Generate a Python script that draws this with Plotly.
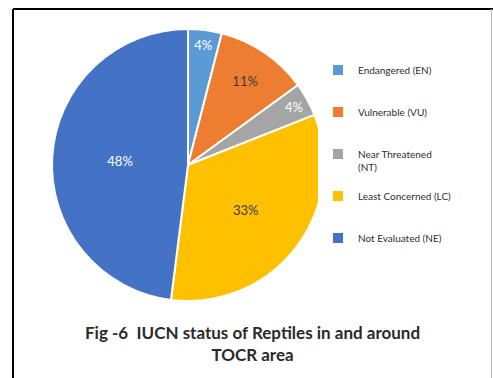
import plotly.graph_objects as go

# IUCN categories and their share of recorded reptile species (%)
categories = ["Endangered (EN)", "Vulnerable (VU)", "Near Threatened<br>(NT)",
              "Least Concerned (LC)", "Not Evaluated (NE)"]
shares = [4, 11, 4, 33, 48]
slice_colors = ["#5B9BD5", "#ED7D31", "#A5A5A5", "#FFC000", "#4472C4"]
label_colors = ["white", "#3b3b3b", "white", "#3b3b4f", "white"]

# pad legend entries so they are spread down the right side
legend_text = []
for c in categories:
    n_lines = c.count("<br>") + 1
    legend_text.append(c + "<br> " * (3 - n_lines))

W, H = 493, 378
cx, cy, r = 188, 165, 136

fig = go.Figure(go.Pie(
    labels=legend_text,
    values=shares,
    sort=False,
    direction="clockwise",
    rotation=0,
    marker=dict(colors=slice_colors, line=dict(color="white", width=2)),
    texttemplate="%{value}%",
    textposition="inside",
    insidetextorientation="horizontal",
    textfont=dict(family="Lato", size=13, color=label_colors),
    hoverinfo="label+percent",
    domain=dict(x=[(cx - r) / W, (cx + r) / W],
                y=[(H - cy - r) / H, (H - cy + r) / H]),
))

fig.update_layout(
    width=W, height=H,
    margin=dict(l=0, r=0, t=0, b=0),
    paper_bgcolor="white",
    uniformtext=dict(minsize=13, mode="show"),
    legend=dict(
        x=318 / W, xanchor="left",
        y=1 - 57 / H, yanchor="top",
        valign="top",
        font=dict(family="Lato", size=10, color="#2e2e2e"),
        itemwidth=30,
        tracegroupgap=0,
    ),
    annotations=[dict(
        text="<b>Fig -6  IUCN status of Reptiles in and around</b><br><b>TOCR area</b>",
        x=252 / W, y=1 - 343 / H, xref="paper", yref="paper",
        xanchor="center", yanchor="middle", showarrow=False,
        font=dict(family="Lato", size=17, color="#2a2a2a"),
    )],
    shapes=[
        dict(type="line", xref="paper", yref="paper",
             x0=13 / W, x1=13 / W, y0=0, y1=1 - 9 / H,
             line=dict(color="black", width=2)),
        dict(type="line", xref="paper", yref="paper",
             x0=13 / W, x1=1, y0=1 - 9 / H, y1=1 - 9 / H,
             line=dict(color="black", width=2)),
        dict(type="line", xref="paper", yref="paper",
             x0=491.5 / W, x1=491.5 / W, y0=0, y1=1 - 9 / H,
             line=dict(color="#bdbdbd", width=1)),
    ],
)

fig.write_html("out.html")
